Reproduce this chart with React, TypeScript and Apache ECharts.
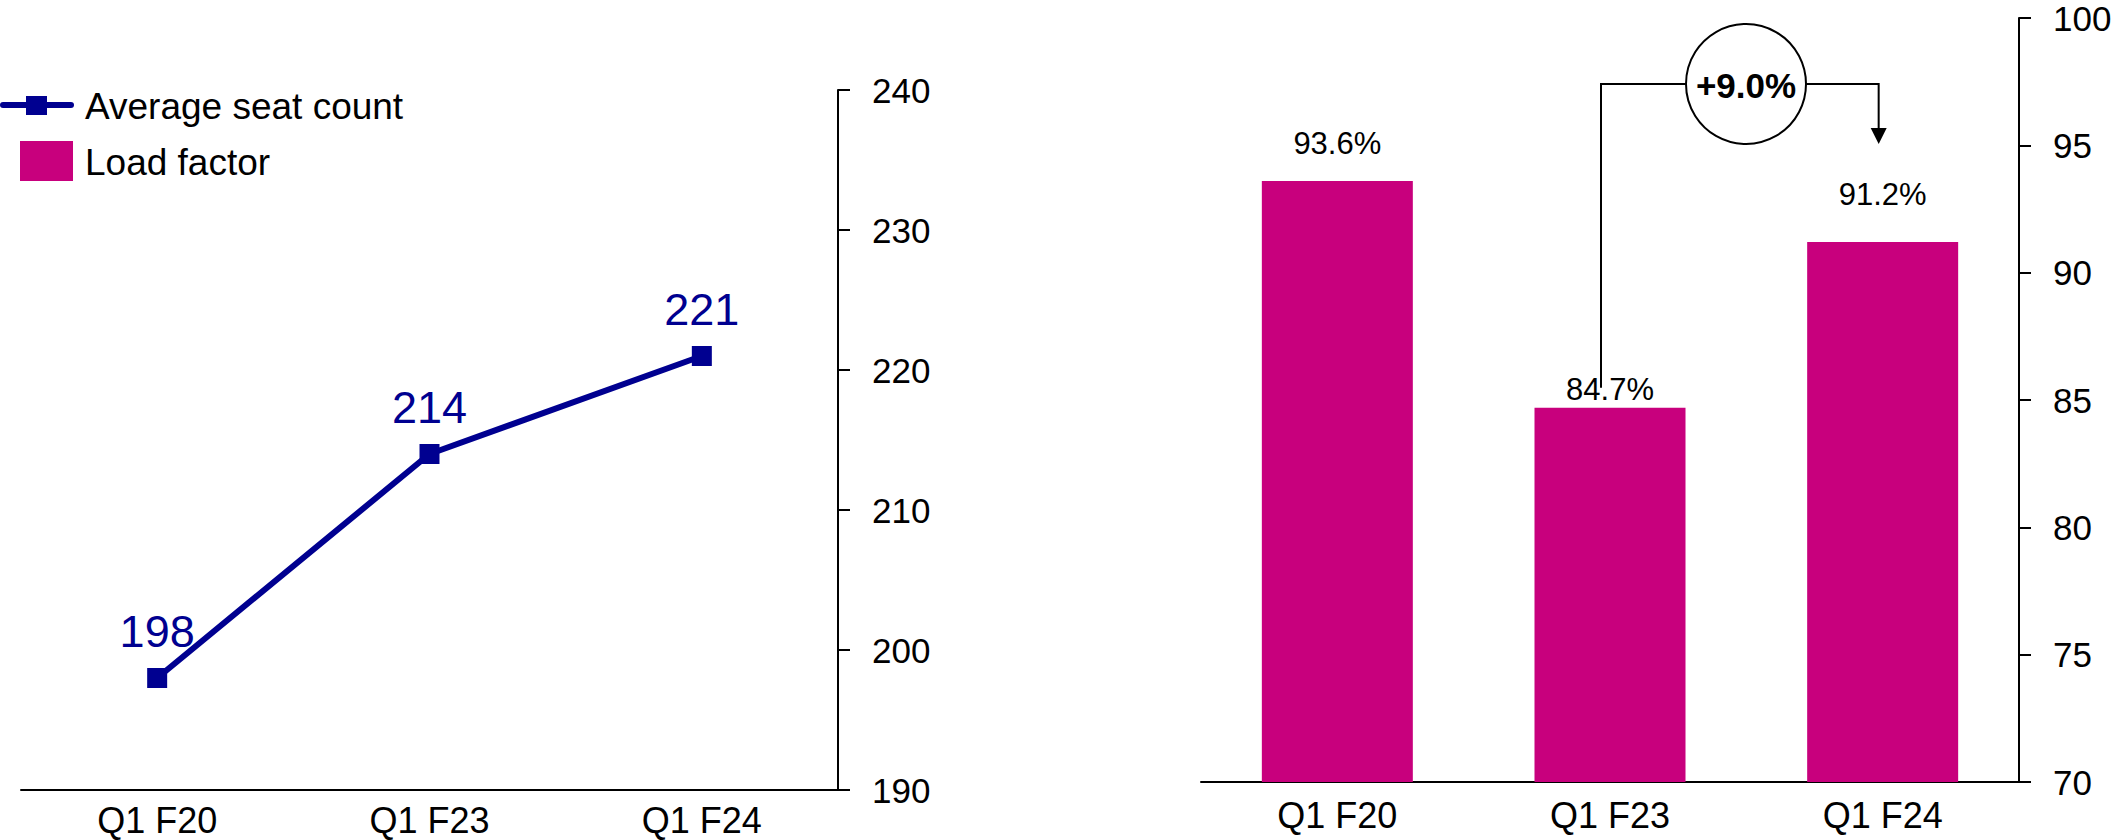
import React, { useEffect, useRef } from "react";
import * as echarts from "echarts";

const categories = ["Q1 F20", "Q1 F23", "Q1 F24"];
const seatCounts = [198, 214, 221];
const loadFactors = [93.6, 84.7, 91.2];
const seatAxis = { min: 190, max: 240, interval: 10 };
const loadAxis = { min: 70, max: 100, interval: 5 };
const legendNames = ["Average seat count", "Load factor"];
const changeLabel = "+9.0%";

const FONT = "'Liberation Sans', Arial, sans-serif";
const NAVY = "#000090";
const PINK = "#C8007D";

export default function App() {
  const ref = useRef<HTMLDivElement>(null);
  useEffect(() => {
    if (!ref.current) return;
    const chart = echarts.init(ref.current, undefined, { renderer: "svg" });
    const barLabelDistance = [22, 3, 32];
    const option: any = {
      animation: false,
      backgroundColor: "#fff",
      textStyle: { fontFamily: FONT },
      grid: [
        { left: 21, right: 1280, top: 90, bottom: 50 },
        { left: 1201, right: 99, top: 18, bottom: 58 },
      ],
      xAxis: [0, 1].map((i) => ({
        type: "category",
        gridIndex: i,
        data: categories,
        axisLine: { show: true, lineStyle: { color: "#000", width: 2 } },
        axisTick: { show: false },
        axisLabel: { color: "#000", fontSize: 36, fontFamily: FONT, margin: i === 0 ? 12 : 15 },
      })),
      yAxis: [seatAxis, loadAxis].map((a, i) => ({
        type: "value",
        gridIndex: i,
        position: "right",
        min: a.min,
        max: a.max,
        interval: a.interval,
        axisLine: { show: true, lineStyle: { color: "#000", width: 2 } },
        axisTick: { show: true, length: 12, lineStyle: { color: "#000", width: 2 } },
        splitLine: { show: false },
        axisLabel: { color: "#000", fontSize: 35, fontFamily: FONT, margin: 34 },
      })),
      series: [
        {
          name: legendNames[0],
          type: "line",
          xAxisIndex: 0,
          yAxisIndex: 0,
          data: seatCounts,
          symbol: "rect",
          symbolSize: 20,
          lineStyle: { color: NAVY, width: 6 },
          itemStyle: { color: NAVY },
          label: {
            show: true,
            position: "top",
            distance: 14,
            color: NAVY,
            fontSize: 45,
            fontFamily: FONT,
          },
        },
        {
          name: legendNames[1],
          type: "bar",
          xAxisIndex: 1,
          yAxisIndex: 1,
          barWidth: 151,
          itemStyle: { color: PINK },
          data: loadFactors.map((v, i) => ({
            value: v,
            label: { distance: barLabelDistance[i] },
          })),
          label: {
            show: true,
            position: "top",
            color: "#000",
            fontSize: 31,
            fontFamily: FONT,
            formatter: (p: any) => p.value.toFixed(1) + "%",
          },
        },
      ],
    };
    chart.setOption(option);

    const p23 = chart.convertToPixel({ xAxisIndex: 1, yAxisIndex: 1 }, [1, loadFactors[1]]) as number[];
    const p24 = chart.convertToPixel({ xAxisIndex: 1, yAxisIndex: 1 }, [2, loadFactors[2]]) as number[];
    const xL = p23[0] - 9;
    const xR = p24[0] - 4;
    const yTop = 84;
    const cx = 1746;
    const r = 60;
    const lineStyle = { stroke: "#000", lineWidth: 2, fill: null };

    chart.setOption({
      graphic: [
        // legend
        { type: "line", shape: { x1: 3, y1: 105, x2: 71, y2: 105 }, style: { stroke: NAVY, lineWidth: 6, lineCap: "round" } },
        { type: "rect", shape: { x: 26, y: 96, width: 21, height: 19 }, style: { fill: NAVY } },
        { type: "text", x: 85, y: 106, style: { text: legendNames[0], fontSize: 37, fontFamily: FONT, fill: "#000", verticalAlign: "middle" } },
        { type: "rect", shape: { x: 20, y: 141, width: 53, height: 40 }, style: { fill: PINK } },
        { type: "text", x: 85, y: 162, style: { text: legendNames[1], fontSize: 37, fontFamily: FONT, fill: "#000", verticalAlign: "middle" } },
        // annotation
        { type: "polyline", shape: { points: [[xL, p23[1] - 20], [xL, yTop], [cx - r, yTop]] }, style: lineStyle },
        { type: "polyline", shape: { points: [[cx + r, yTop], [xR, yTop], [xR, 130]] }, style: lineStyle },
        { type: "polygon", shape: { points: [[xR - 8, 128], [xR + 8, 128], [xR, 144]] }, style: { fill: "#000" } },
        { type: "circle", shape: { cx, cy: yTop, r }, style: { stroke: "#000", lineWidth: 2, fill: "#fff" } },
        { type: "text", x: cx, y: yTop + 1, style: { text: changeLabel, fontSize: 35, fontWeight: "bold", fontFamily: FONT, fill: "#000", align: "center", verticalAlign: "middle" } },
      ],
    });
    return () => chart.dispose();
  }, []);
  return <div ref={ref} style={{ position: "absolute", left: 0, top: 0, width: 2118, height: 840 }} />;
}
